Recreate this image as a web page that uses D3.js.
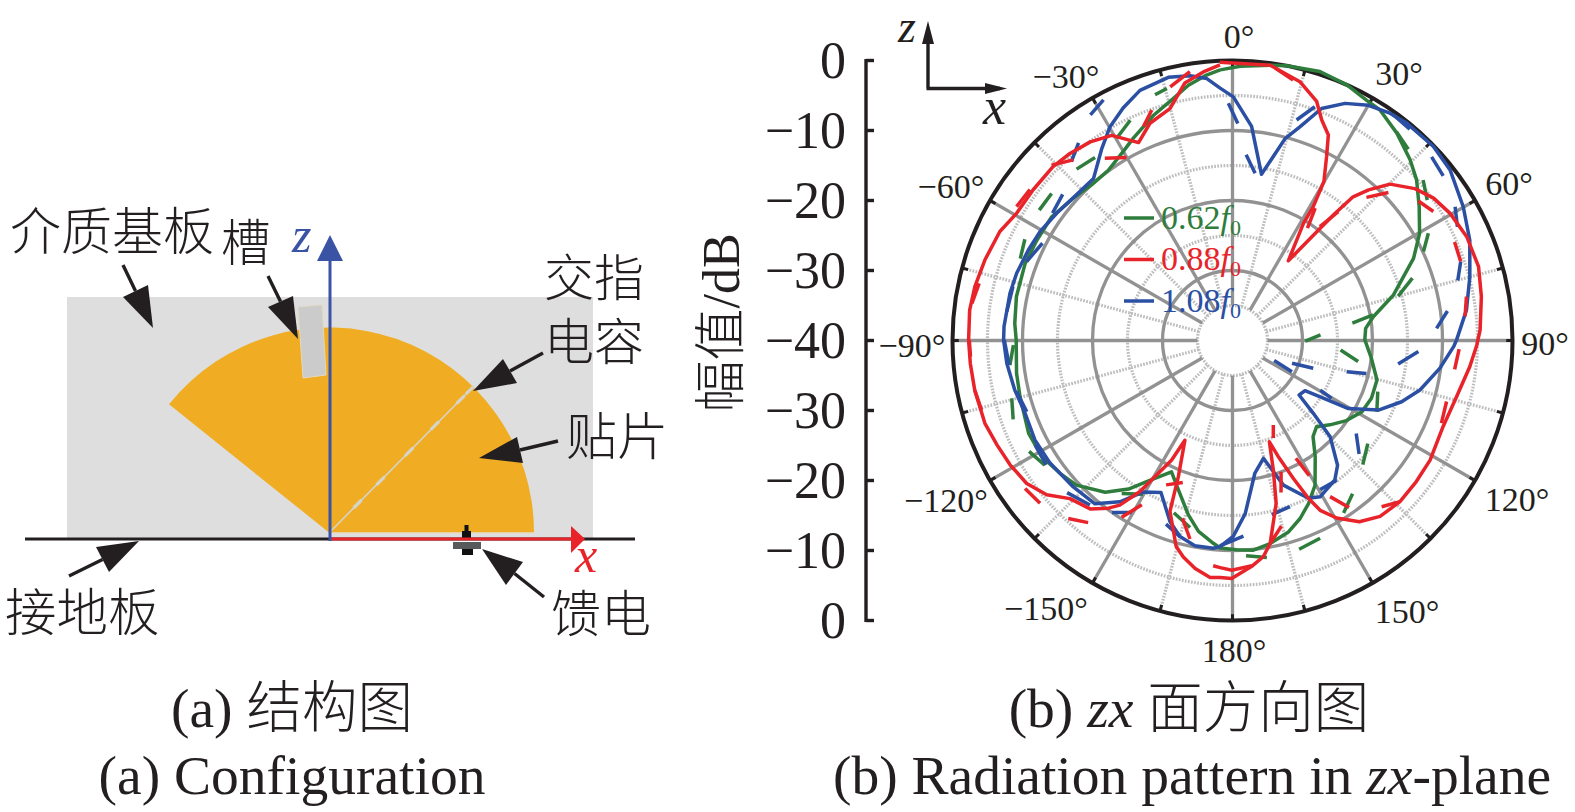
<!DOCTYPE html>
<html><head><meta charset="utf-8">
<script src="https://cdn.jsdelivr.net/npm/d3@7"></script>
<style>
html,body{margin:0;padding:0;background:#fff}
svg{display:block}
text{font-family:"Liberation Serif",serif;fill:#231f20}
.cjk{font-family:"Noto Sans CJK SC",sans-serif;font-weight:300}
</style></head><body>
<svg id="chart" width="1575" height="812"></svg>
<script>
// Radiation pattern traces, [angle in degrees clockwise from +z, level in dB].
const red088 = [[-2.6,-0.2],[7.8,-0.3],[14.6,-1.8],[19.4,-3.8],[22.0,-6.0],[25.0,-7.6],[27.1,-10.5],[29.9,-13.8],[31.1,-17.7],[31.2,-20.4],[35.0,-26.1],[38.0,-19.7],[38.9,-16.7],[40.0,-13.2],[42.1,-11.0],[45.2,-8.3],[50.2,-6.1],[54.7,-4.8],[59.7,-4.0],[66.1,-3.4],[73.3,-3.3],[80.0,-3.9],[87.6,-4.6],[91.1,-5.1],[96.3,-5.9],[104.1,-7.0],[112.2,-7.5],[121.2,-7.0],[127.5,-6.9],[133.9,-6.8],[140.0,-7.2],[145.0,-8.4],[149.6,-10.6],[152.7,-12.7],[154.3,-15.0],[156.2,-18.5],[158.5,-22.2],[160.0,-24.6],[162.5,-20.6],[165.0,-15.9],[169.5,-10.5],[171.9,-8.8],[174.9,-7.7],[-179.8,-6.0],[-177.0,-6.1],[-174.6,-6.0],[-170.7,-7.0],[-167.2,-8.3],[-164.7,-9.5],[-159.9,-14.0],[-158.3,-19.1],[-154.5,-24.2],[-153.0,-20.8],[-150.1,-17.3],[-148.5,-14.7],[-145.6,-11.5],[-143.5,-10.2],[-139.8,-8.5],[-134.2,-7.6],[-129.7,-5.5],[-124.8,-4.2],[-119.2,-3.6],[-113.9,-3.2],[-108.5,-2.7],[-100.9,-2.5],[-95.0,-2.4],[-89.9,-2.3],[-83.4,-2.2],[-78.2,-2.4],[-72.0,-2.8],[-64.9,-3.3],[-59.5,-4.2],[-52.9,-4.3],[-45.9,-4.3],[-41.0,-4.6],[-35.6,-5.1],[-30.5,-6.0],[-25.4,-8.7],[-20.8,-6.8],[-15.1,-5.7],[-10.5,-2.6],[-6.2,-1.4],[-2.6,-0.6]];
const green062 = [[-2.6,-1.3],[1.6,-0.8],[7.8,-0.3],[11.2,0],[18.0,0.4],[24.1,0],[29.2,-0.7],[32.6,-0.9],[38.4,-2.2],[44.5,-3.8],[48.9,-5.1],[54.4,-7.2],[60.2,-9.2],[65.6,-11.6],[74.2,-16.1],[80.4,-19.6],[84.8,-20.9],[89.8,-21.1],[90.5,-21.0],[97.3,-20.0],[105.3,-18.6],[112.6,-18.5],[118.9,-18.9],[125.1,-20.1],[130.9,-21.6],[135.7,-22.8],[140.0,-22.1],[144.6,-19.6],[150.3,-16.2],[155.0,-14.3],[159.2,-12.8],[163.7,-11.5],[169.5,-10.5],[174.3,-9.9],[178.9,-10.1],[-176.6,-10.3],[-174.6,-10.9],[-169.9,-12.3],[-165.8,-14.3],[-160.1,-17.3],[-155.1,-19.3],[-148.7,-16.4],[-145.0,-14.1],[-140.0,-11.7],[-132.8,-9.6],[-127.6,-8.9],[-121.3,-8.1],[-114.5,-8.0],[-104.8,-8.6],[-98.6,-8.8],[-89.9,-9.1],[-85.5,-8.8],[-78.5,-8.5],[-69.6,-8.4],[-62.8,-8.6],[-55.6,-8.7],[-48.2,-9.5],[-42.2,-10.0],[-36.1,-9.9],[-30.0,-8.8],[-26.1,-7.8],[-19.3,-5.9],[-13.7,-4.4],[-9.8,-3.0],[-5.6,-1.9],[-2.6,-1.3]];
const blue108 = [[-2.8,-3.9],[0.2,-5.2],[5.1,-9.3],[9.9,-15.9],[14.6,-10.2],[17.5,-8.0],[21.0,-4.5],[25.4,-2.5],[30.0,-1.2],[34.7,-0.5],[38.7,-0.2],[46.0,-0.1],[51.9,-0.5],[59.9,-1.9],[67.1,-3.2],[75.0,-4.9],[82.6,-6.3],[89.9,-8.0],[91.6,-8.4],[97.6,-10.1],[104.8,-12.3],[109.9,-14.3],[115.5,-16.9],[120.4,-20.8],[122.7,-25.1],[124.7,-27.4],[129.3,-27.7],[132.0,-24.5],[134.6,-20.4],[139.9,-16.7],[143.7,-15.3],[150.7,-14.4],[154.3,-15.0],[160.6,-18.1],[165.3,-22.6],[170.4,-20.8],[175.8,-15.2],[179.8,-12.0],[-176.5,-10.5],[-174.7,-10.2],[-169.6,-10.2],[-165.0,-11.0],[-161.0,-12.6],[-154.8,-16.0],[-149.5,-14.9],[-145.1,-11.9],[-139.9,-9.5],[-132.6,-9.1],[-123.9,-8.6],[-116.7,-8.4],[-109.3,-8.6],[-102.8,-8.1],[-95.8,-7.6],[-89.9,-7.3],[-86.5,-7.3],[-78.0,-7.5],[-72.7,-7.7],[-66.1,-8.1],[-60.5,-8.4],[-54.1,-9.0],[-47.0,-9.5],[-40.6,-9.5],[-34.2,-6.8],[-29.8,-4.8],[-25.2,-3.3],[-20.3,-1.9],[-13.7,-1.3],[-9.1,-1.7],[-5.6,-2.4],[-2.8,-3.9]];

// Measured traces, drawn as separate dash strokes.
const red088Dashes = [[[8.9,-0.6],[13.1,-1.8]],[[-13.8,-2.7],[-9.0,-1.1]],[[-22.6,-6.9],[-19.3,-5.1]],[[-35.0,-8.2],[-30.1,-9.8]],[[-45.9,-4.0],[-41.4,-5.6]],[[-58.2,-3.7],[-53.3,-3.9]],[[-81.9,-2.4],[-77.3,-2.9]],[[-89.9,-2.4],[-93.5,-2.5]],[[-100.9,-2.5],[-105.5,-2.8]],[[-125.5,-3.6],[-130.2,-4.0]],[[-137.3,-5.4],[-141.6,-6.8]],[[-147.9,-10.2],[-151.1,-13.2]],[[-155.3,-17.3],[-160.7,-18.5]],[[-164.3,-13.6],[-167.9,-11.0]],[[-175.1,-7.7],[-176.9,-7.5],[-179.8,-7.2],[175.1,-7.7]],[[169.5,-10.5],[165.2,-12.6]],[[162.3,-17.2],[159.7,-20.0]],[[157.3,-24.9],[154.2,-26.6]],[[150.4,-17.8],[151.7,-20.9]],[[148.0,-13.7],[145.1,-10.9]],[[138.1,-8.1],[133.9,-6.8]],[[111.6,-7.9],[105.9,-8.2]],[[97.4,-8.0],[92.2,-7.6]],[[84.1,-6.6],[79.4,-6.0]],[[70.9,-5.5],[66.1,-5.3]],[[57.3,-5.9],[53.1,-6.8]],[[46.5,-9.3],[43.1,-12.0]],[[37.5,-19.5],[39.4,-16.2]],[[33.7,-20.7],[32.0,-17.7]]];
const green062Dashes = [[[-17.5,-3.2],[-14.6,-2.8]],[[-24.9,-5.3],[-29.8,-6.7]],[[-42.3,-6.9],[-36.9,-7.3]],[[-56.0,-6.7],[-50.9,-6.7]],[[-68.9,-7.5],[-64.0,-7.0]],[[-96.3,-8.0],[-91.2,-8.7]],[[-109.8,-6.7],[-104.7,-7.4]],[[-118.6,-6.9],[-123.6,-7.8]],[[-144.1,-13.0],[-149.8,-14.6]],[[-161.2,-14.0],[-167.2,-12.6]],[[171.0,-8.6],[176.4,-9.2]],[[162.3,-8.7],[156.1,-9.1]],[[147.2,-10.7],[141.9,-12.2]],[[133.6,-14.3],[127.3,-15.7]],[[116.3,-17.0],[109.4,-18.0]],[[99.5,-21.8],[95.0,-24.5]],[[86.4,-27.4],[90.4,-29.6]],[[81.8,-22.7],[79.7,-19.6]],[[75.0,-15.5],[70.9,-12.8]],[[65.0,-9.9],[61.3,-8.1]],[[54.2,-5.7],[49.9,-4.4]],[[42.6,-2.9],[38.2,-2.1]]];
const blue108Dashes = [[[-32.2,-1.9],[-28.2,-1.0]],[[-42.0,-5.6],[-37.9,-4.2]],[[-54.7,-8.5],[-49.3,-8.0]],[[-69.0,-8.5],[-62.9,-9.5]],[[-82.7,-7.5],[-76.2,-7.7]],[[-89.9,-7.4],[-96.3,-7.9]],[[-103.3,-8.3],[-109.1,-8.9]],[[-117.9,-8.1],[-123.7,-8.0]],[[-132.6,-7.9],[-139.1,-8.9]],[[-145.0,-10.0],[-149.6,-11.5]],[[-160.1,-12.1],[-165.0,-11.0]],[[-176.5,-10.6],[176.8,-12.0]],[[167.3,-14.5],[160.9,-14.9]],[[149.5,-15.3],[143.3,-15.1]],[[131.9,-15.7],[126.9,-17.9]],[[119.5,-25.6],[120.3,-23.6]],[[110.9,-30.9],[109.0,-27.8]],[[115.7,-33.4],[117.8,-30.4]],[[105.3,-23.1],[103.8,-20.3]],[[98.1,-16.1],[93.4,-13.4]],[[86.6,-10.8],[82.2,-9.0]],[[75.1,-6.7],[70.9,-5.5]],[[63.2,-4.0],[59.0,-2.9]],[[52.0,-1.8],[47.3,-1.3]],[[40.0,-0.6],[35.5,-0.4]],[[16.2,-7.2],[19.4,-4.6]],[[7.7,-15.9],[4.2,-13.4]],[[1.4,-9.0],[-1.0,-6.1]]];

const magnitudeLabels = ["0","−10","−20","−30","−40","−30","−20","−10","0"];
const solidRings = [-30,-20,-10];
const dottedRings = [-35,-25,-15,-5];
const solidSpokes = [0,30,60,90,120,150,180,-150,-120,-90,-60,-30];
const dottedSpokes = [15,45,75,105,135,165,-165,-135,-105,-75,-45,-15];
const legendItems = [["0.62",0],["0.88",1],["1.08",2]];

const INK = "#231f20", GREEN = "#2f7d3c", RED = "#e8232a", BLUE = "#2a4fa3";
const traceColors = [GREEN, RED, BLUE];
const TRACE_W = 3.5, GRID_W = 3.3;

const svg = d3.select("#chart");

// ---------- Polar panel ----------
const cx = 1232.5, cy = 340.5;
const r = d3.scaleLinear().domain([-40,0]).range([0,280]);
const rad = d => d * Math.PI / 180;
const polar = (deg, rr) => [cx + rr * Math.sin(rad(deg)), cy - rr * Math.cos(rad(deg))];
const radial = d3.lineRadial().angle(d => rad(d[0])).radius(d => r(d[1])).curve(d3.curveLinear);

const plot = svg.append("g").attr("transform", `translate(${cx},${cy})`);
plot.selectAll(".ring-dot").data(dottedRings).join("circle")
  .attr("r", d => r(d)).attr("fill","none").attr("stroke","#bdbdbd")
  .attr("stroke-width",3.2).attr("stroke-dasharray","1.7 1.4");
plot.selectAll(".spoke-dot").data(dottedSpokes).join("line")
  .attr("x1", d => r(-35)*Math.sin(rad(d))).attr("y1", d => -r(-35)*Math.cos(rad(d)))
  .attr("x2", d => r(0)*Math.sin(rad(d))).attr("y2", d => -r(0)*Math.cos(rad(d)))
  .attr("stroke","#bdbdbd").attr("stroke-width",3.2).attr("stroke-dasharray","1.7 1.4");
plot.selectAll(".ring").data(solidRings).join("circle")
  .attr("r", d => r(d)).attr("fill","none").attr("stroke","#929292").attr("stroke-width",GRID_W);
plot.selectAll(".spoke").data(solidSpokes).join("line")
  .attr("x1", d => r(-35)*Math.sin(rad(d))).attr("y1", d => -r(-35)*Math.cos(rad(d)))
  .attr("x2", d => r(0)*Math.sin(rad(d))).attr("y2", d => -r(0)*Math.cos(rad(d)))
  .attr("stroke","#929292").attr("stroke-width",GRID_W);
// Short black ticks on the outer rim
plot.selectAll(".rim-tick").data(solidSpokes.concat(dottedSpokes)).join("line")
  .attr("x1", d => r(-0.9)*Math.sin(rad(d))).attr("y1", d => -r(-0.9)*Math.cos(rad(d)))
  .attr("x2", d => r(0)*Math.sin(rad(d))).attr("y2", d => -r(0)*Math.cos(rad(d)))
  .attr("stroke",INK).attr("stroke-width",3);
plot.append("circle").attr("r", r(0)).attr("fill","none").attr("stroke",INK).attr("stroke-width",4);

// Traces: green beneath, then blue, red on top
[[green062,green062Dashes,GREEN],[blue108,blue108Dashes,BLUE],[red088,red088Dashes,RED]].forEach(([solid,dashes,color]) => {
  plot.selectAll(null).data(dashes).join("path").attr("d", radial)
    .attr("fill","none").attr("stroke",color).attr("stroke-width",TRACE_W);
  plot.append("path").datum(solid).attr("d", radial)
    .attr("fill","none").attr("stroke",color).attr("stroke-width",TRACE_W).attr("stroke-linejoin","round");
});

// Angle labels sit at per-direction offsets from the rim
const angleLabelOffsets = new Map([[0,[6.5,-12.5]],[30,[26.5,-13]],[60,[34,-5.5]],[90,[32.5,14.5]],[120,[42,30.5]],[150,[34.5,40]],[180,[1.5,41.5]],[-150,[-46.5,37]],[-120,[-44,31.5]],[-90,[-40.5,16.5]],[-60,[-39,-2.5]],[-30,[-26.5,-10]]]);
svg.append("g").selectAll("text").data(solidSpokes).join("text")
  .attr("x", d => polar(d,280)[0] + angleLabelOffsets.get(d)[0])
  .attr("y", d => polar(d,280)[1] + angleLabelOffsets.get(d)[1])
  .attr("text-anchor","middle").attr("font-size",34)
  .text(d => (d < 0 ? "−" + (-d) : d) + "°");

// Magnitude axis, folded about the centre
const yAxisX = 866;
const yScale = d3.scalePoint().domain(d3.range(magnitudeLabels.length)).range([60.5,620.5]);
const yAxis = svg.append("g");
yAxis.append("line").attr("x1",yAxisX).attr("x2",yAxisX).attr("y1",yScale(0)-1.5).attr("y2",yScale(8)+1.5)
  .attr("stroke",INK).attr("stroke-width",3.4);
yAxis.selectAll(".t").data(magnitudeLabels).join("line")
  .attr("x1",yAxisX).attr("x2",yAxisX+8).attr("y1",(d,i)=>yScale(i)).attr("y2",(d,i)=>yScale(i))
  .attr("stroke",INK).attr("stroke-width",3.4);
yAxis.selectAll("text").data(magnitudeLabels).join("text")
  .attr("x",846).attr("y",(d,i)=>yScale(i)+17).attr("text-anchor","end").attr("font-size",52).text(d=>d);
svg.append("text").attr("transform","translate(739,323) rotate(-90)").attr("text-anchor","middle").attr("font-size",52)
  .call(t=>{t.append("tspan").attr("class","cjk").text("幅值");t.append("tspan").text("/dB");});

// Legend inside the plot
legendItems.forEach(([v,i]) => {
  const y = 218 + i*41.5;
  svg.append("line").attr("x1",1124).attr("x2",1154).attr("y1",y).attr("y2",y).attr("stroke",traceColors[i]).attr("stroke-width",TRACE_W);
  const t = svg.append("text").attr("x",1161).attr("y",y+10.5).attr("font-size",34).style("fill",traceColors[i]);
  t.append("tspan").text(v);
  t.append("tspan").attr("font-style","italic").text("f");
  t.append("tspan").attr("font-size",22).attr("dy",6).text("0");
});

// Coordinate triad beside the plot
const triad = svg.append("g");
triad.append("path").attr("d","M928 88.5V32M926.5 88.5H1000").attr("fill","none").attr("stroke",INK).attr("stroke-width",3.4);
triad.append("path").attr("d","M928 21L934 44H922Z M1007 88.5L985 83V94Z").attr("fill",INK);
triad.append("text").attr("x",898).attr("y",42).attr("font-size",46).attr("font-style","italic").text("z");
triad.append("text").attr("x",983).attr("y",124).attr("font-size",52).attr("font-style","italic").text("x");

// ---------- Structure panel ----------
const cfg = svg.append("g");
cfg.append("rect").attr("x",67).attr("y",297).attr("width",526).attr("height",242).attr("fill","#dedede");
const patchArc = d3.arc().innerRadius(0).outerRadius(205).startAngle(rad(-51.3)).endAngle(rad(90));
cfg.append("path").attr("transform","translate(329,532.5)").attr("d",patchArc()).attr("fill","#f0ad23");
cfg.append("path").attr("d","M298 307L322 305L326 375L303 378Z").attr("fill","#cbcbcb").attr("stroke","#e2d9c2").attr("stroke-width",1);
cfg.append("line").attr("x1",329).attr("y1",533).attr("x2",472).attr("y2",388).attr("stroke","#d6d3c8").attr("stroke-width",1.6);
[0.2,0.36,0.56,0.74,0.92,0.985].forEach(p=>{
  const x=329+143*p, y=533-145*p;
  cfg.append("line").attr("x1",x-4).attr("y1",y+4).attr("x2",x+4).attr("y2",y-4).attr("stroke","#d6d3c8").attr("stroke-width",3.2);
});
cfg.append("line").attr("x1",330).attr("y1",533).attr("x2",534).attr("y2",533).attr("stroke","#e9dcc0").attr("stroke-width",1);
// ground plane
cfg.append("line").attr("x1",25).attr("x2",635).attr("y1",539).attr("y2",539).attr("stroke",INK).attr("stroke-width",3.2);
// feed probe
cfg.append("path").attr("d","M464.5 525h4v6h2.5v8h-9v-8h2.5z").attr("fill","#111");
cfg.append("rect").attr("x",462).attr("y",549).attr("width",11).attr("height",6).attr("fill","#111");
// x axis
cfg.append("line").attr("x1",330).attr("x2",572).attr("y1",539).attr("y2",539).attr("stroke",RED).attr("stroke-width",3.2);
cfg.append("path").attr("d","M585 539L571 526V553Z").attr("fill",RED);
cfg.append("rect").attr("x",453).attr("y",542).attr("width",28).attr("height",7).attr("fill","#58595b");
// z axis
cfg.append("line").attr("x1",330).attr("x2",330).attr("y1",541).attr("y2",258).attr("stroke","#3a53a4").attr("stroke-width",3);
cfg.append("path").attr("d","M330 235L343 261H317Z").attr("fill","#3a53a4");
cfg.append("text").attr("x",292).attr("y",252).attr("font-size",50).attr("font-style","italic").style("fill","#3a53a4").text("z");
cfg.append("text").attr("x",575).attr("y",572).attr("font-size",50).attr("font-style","italic").style("fill",RED).text("x");

// Callout arrows: tail, tip, head base corners
const callouts = [
  [[123,265],[153,328],[123,297],[148,285]],
  [[268,276],[298,339],[268,307],[293,296]],
  [[69,576],[139,541],[96,547],[109,572]],
  [[543,353],[473,391],[503,359],[517,383]],
  [[558,441],[479,458],[517,437],[523,463]],
  [[544,597],[482,549],[523,562],[506,585]]
];
callouts.forEach(([tail,tip,a,b])=>{
  const mid=[(a[0]+b[0])/2,(a[1]+b[1])/2];
  cfg.append("line").attr("x1",tail[0]).attr("y1",tail[1]).attr("x2",mid[0]).attr("y2",mid[1]).attr("stroke",INK).attr("stroke-width",3.4);
  cfg.append("path").attr("d",`M${tip}L${a}L${b}Z`).attr("fill",INK);
});

// Chinese callout labels
[["介质基板",10,250,51],["槽",221,261,49.5],["接地板",5,631,51.5],["交指",544,296,50],["电容",544,360,50],["贴片",566,455,51],["馈电",551,632,50]].forEach(([s,x,y,fs])=>{
  cfg.append("text").attr("class","cjk").attr("x",x).attr("y",y).attr("font-size",fs).text(s);
});

// ---------- Captions ----------
function caption(x,y,parts){
  const t=svg.append("text").attr("x",x).attr("y",y).attr("text-anchor","middle").attr("font-size",55.5);
  parts.forEach(([s,st])=>{
    const sp=t.append("tspan").text(s);
    if(st==="i") sp.attr("font-style","italic");
    if(st==="c") sp.attr("class","cjk");
  });
}
caption(292,727,[["(a) "],["结构图","c"]]);
caption(292,794,[["(a) Configuration"]]);
caption(1189,727,[["(b) "],["zx","i"],[" "],["面方向图","c"]]);
caption(1192,794,[["(b) Radiation pattern in "],["zx","i"],["-plane"]]);
</script>
</body></html>
